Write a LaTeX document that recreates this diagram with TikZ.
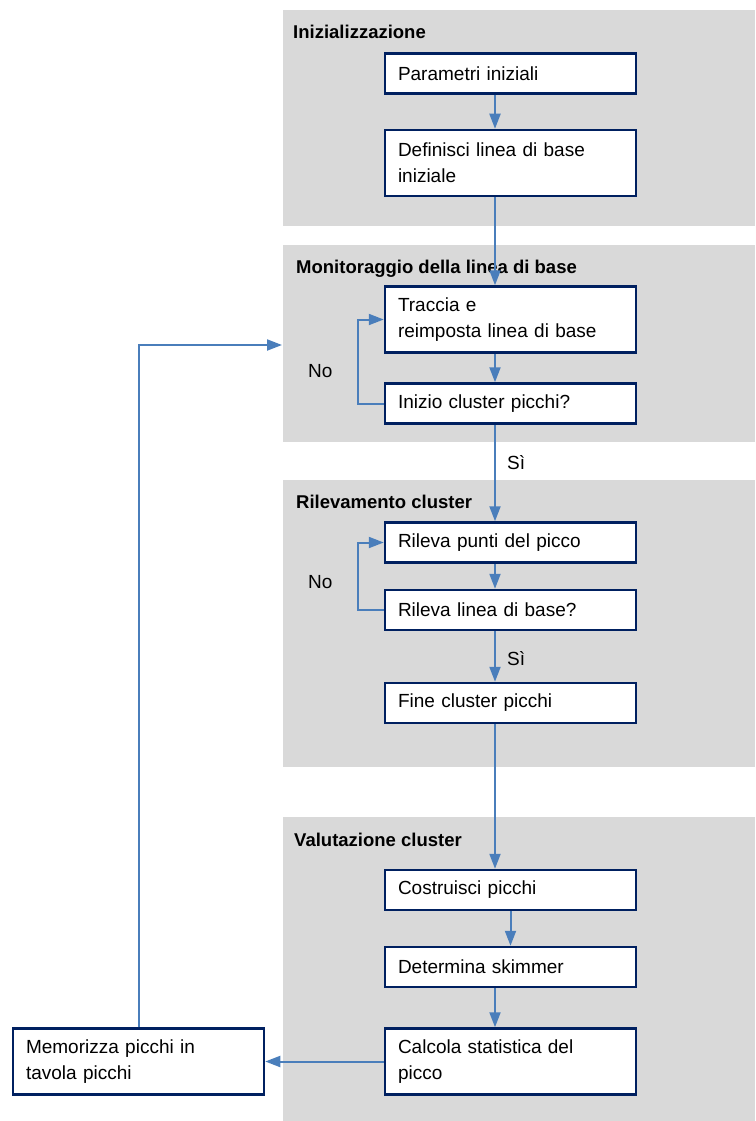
\documentclass[tikz,border=0pt]{standalone}
\usepackage{fontspec}
\setmainfont{Liberation Sans}
\usepackage{xcolor}
\usetikzlibrary{arrows.meta}
\definecolor{panelgray}{RGB}{217,217,217}
\definecolor{boxnavy}{RGB}{0,32,96}
\definecolor{flowblue}{RGB}{74,126,187}

\begin{document}
\begin{tikzpicture}[x=1pt, y=-1pt,
    box/.style={draw=boxnavy, line width=2.5pt, fill=white, minimum width=251pt,
      minimum height=40pt, text width=225pt, inner xsep=13pt, align=left,
      font=\fontsize{19}{26}\selectfont},
    tall/.style={minimum height=66pt},
    flow/.style={draw=flowblue, line width=2pt, -{Triangle[length=15pt, width=11pt]}},
    title/.style={anchor=base west, inner sep=0pt, font=\fontsize{18.5}{22}\selectfont\bfseries},
    lbl/.style={anchor=base west, inner sep=0pt, font=\fontsize{19}{22}\selectfont}]
  \useasboundingbox (0,0) rectangle (755,1121);

  \fill[panelgray] (283,10) rectangle (755,226);
  \fill[panelgray] (283,245) rectangle (755,442);
  \fill[panelgray] (283,480) rectangle (755,767);
  \fill[panelgray] (283,817) rectangle (755,1121);

  \node[title] (t1) at (293,39) {Inizializzazione};
  \node[title] (t2) at (296,273) {Monitoraggio della linea di base};
  \node[title] (t3) at (296,508) {Rilevamento cluster};
  \node[title] (t4) at (294,846) {Valutazione cluster};

  \coordinate (ax) at (495,0);
  \coordinate (lx) at (358,0);

  \node[box] (par) at (510.5,73.5) {Parametri iniziali};
  \node[box, tall] (def) at (510.5,163) {Definisci linea di base\\iniziale};
  \node[box, tall] (trc) at (510.5,319.5) {Traccia e\\reimposta linea di base};
  \node[box] (ini) at (510.5,403.5) {Inizio cluster picchi?};
  \node[box] (ril) at (510.5,542.5) {Rileva punti del picco};
  \node[box] (rlb) at (510.5,610) {Rileva linea di base?};
  \node[box] (fin) at (510.5,703) {Fine cluster picchi};
  \node[box] (cos) at (510.5,890) {Costruisci picchi};
  \node[box] (det) at (510.5,967) {Determina skimmer};
  \node[box, tall] (cal) at (510.5,1061.5) {Calcola statistica del\\picco};
  \node[box, tall] (mem) at (138.5,1061.5) {Memorizza picchi in\\tavola picchi};
  \coordinate (ret) at (282,345);

  \node[lbl] (no1) at (308,377) {No};
  \node[lbl] (no2) at (308,588) {No};
  \node[lbl] (si1) at (507,469) {Sì};
  \node[lbl] (si2) at (507,665) {Sì};

  \draw[flow] (par.south -| ax) -- (def.north -| ax);
  \draw[flow] (def.south -| ax) -- (trc.north -| ax);
  \draw[flow] (trc.south -| ax) -- (ini.north -| ax);
  \draw[flow] (ini.west) -- (ini.west -| lx) |- (trc.west);
  \draw[flow] (ini.south -| ax) -- (ril.north -| ax);
  \draw[flow] (ril.south -| ax) -- (rlb.north -| ax);
  \draw[flow] (rlb.west) -- (rlb.west -| lx) |- (ril.west);
  \draw[flow] (rlb.south -| ax) -- (fin.north -| ax);
  \draw[flow] (fin.south -| ax) -- (cos.north -| ax);
  \draw[flow] (cos.south) -- (det.north);
  \draw[flow] (det.south -| ax) -- (cal.north -| ax);
  \draw[flow] (cal.west) -- (mem.east);
  \draw[flow] (mem.north) |- (ret);
\end{tikzpicture}
\end{document}
